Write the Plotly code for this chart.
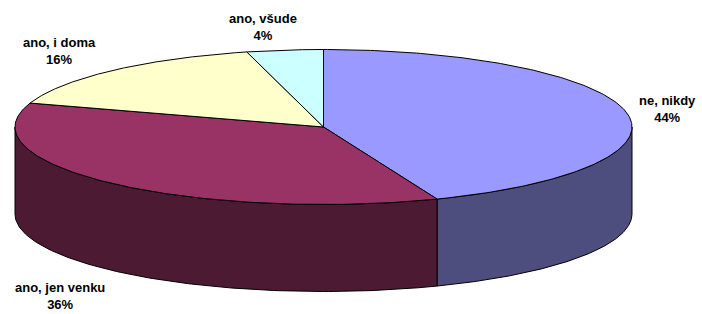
import numpy as np
import plotly.graph_objects as go

categories = ["ne, nikdy", "ano, jen venku", "ano, i doma", "ano, všude"]
values = [44, 36, 16, 4]
top_colors = ["#9999FF", "#993366", "#FFFFCC", "#CCFFFF"]
side_colors = ["#4D4D7E", "#4C1A33", "#80806A", "#6A8080"]

# geometry of the pseudo-3D pie (pixel space)
cx, cy, a, b, depth = 323.5, 127.0, 308.5, 77.5, 87.0

def pt(theta_deg):
    t = np.radians(theta_deg)
    return cx + a * np.sin(t), cy - b * np.cos(t)

total = sum(values)
bounds = np.concatenate([[0], np.cumsum(values) / total * 360.0])

fig = go.Figure()

# side walls (front half only: 90..270 deg)
for i in range(len(values)):
    t1, t2 = max(bounds[i], 90), min(bounds[i + 1], 270)
    if t2 <= t1:
        continue
    ts = np.linspace(t1, t2, 120)
    xs, ys = pt(ts)
    px = np.concatenate([xs, xs[::-1], xs[:1]])
    py = np.concatenate([ys, ys[::-1] + depth, ys[:1]])
    fig.add_trace(go.Scatter(x=px, y=py, fill="toself", fillcolor=side_colors[i],
                             mode="lines", line=dict(color="black", width=1),
                             hoverinfo="skip", showlegend=False))

# top faces
for i in range(len(values)):
    ts = np.linspace(bounds[i], bounds[i + 1], 200)
    xs, ys = pt(ts)
    px = np.concatenate([[cx], xs, [cx]])
    py = np.concatenate([[cy], ys, [cy]])
    fig.add_trace(go.Scatter(x=px, y=py, fill="toself", fillcolor=top_colors[i],
                             mode="lines", line=dict(color="black", width=1),
                             hoverinfo="skip", showlegend=False))

label_pos = [(667, 109), (60, 296), (59, 51), (263, 27)]
for (lx, ly), c, v in zip(label_pos, categories, values):
    fig.add_annotation(x=lx, y=ly, text=f"<b>{c}<br>{v}%</b>", showarrow=False,
                       font=dict(family="Liberation Sans, Arial", size=13, color="black"),
                       xanchor="center", yanchor="middle", align="center")

fig.update_layout(
    width=702, height=314, margin=dict(l=0, r=0, t=0, b=0),
    paper_bgcolor="white", plot_bgcolor="white",
    xaxis=dict(range=[0, 702], visible=False, fixedrange=True),
    yaxis=dict(range=[314, 0], visible=False, fixedrange=True),
)
fig.write_html("out.html", config={"displayModeBar": False},
               post_script="document.body.style.margin='0';document.body.style.overflow='hidden';")
